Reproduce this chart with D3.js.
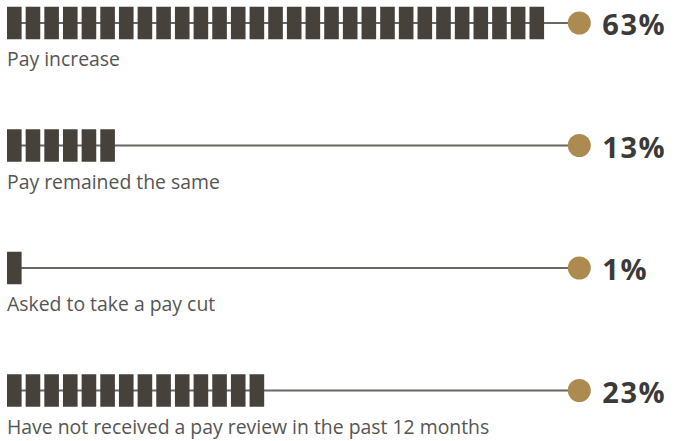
<!DOCTYPE html>
<html>
<head>
<meta charset="utf-8">
<script src="https://cdn.jsdelivr.net/npm/d3@7"></script>
<style>
  html, body { margin: 0; padding: 0; background: #fff; }
  svg { display: block; }
</style>
</head>
<body>
<svg id="chart" width="674" height="441"></svg>
<script>
const categories = [
  "Pay increase",
  "Pay remained the same",
  "Asked to take a pay cut",
  "Have not received a pay review in the past 12 months"
];
const values = [63, 13, 1, 23];
const blockCounts = [29, 6, 1, 14];
const valueLabels = ["63%", "13%", "1%", "23%"];

const svg = d3.select("#chart");

const y = d3.scalePoint().domain(categories).range([23, 390.5]);
const x = d3.scaleLinear().domain([0, 29]).range([7, 7 + 29 * 18.66]);
const blockW = 14.6, blockH = 32.5;
const circleX = 579.3, r = 11.5;

const rows = svg.selectAll("g.row")
  .data(categories.map((c, i) => ({ c, v: values[i], n: blockCounts[i], lab: valueLabels[i] })))
  .join("g").attr("class", "row")
  .attr("transform", d => `translate(0,${y(d.c)})`);

rows.append("line")
  .attr("x1", 7).attr("x2", circleX)
  .attr("y1", 0).attr("y2", 0)
  .attr("stroke", "#6b6764").attr("stroke-width", 2);

rows.selectAll("rect")
  .data(d => d3.range(d.n))
  .join("rect")
  .attr("x", i => x(i))
  .attr("y", -blockH / 2)
  .attr("width", blockW)
  .attr("height", blockH)
  .attr("fill", "#46413b");

rows.append("circle")
  .attr("cx", circleX).attr("cy", 0).attr("r", r)
  .attr("fill", "#ad8a4f");

rows.append("text")
  .attr("x", circleX + 23)
  .attr("y", 12)
  .attr("font-family", "'Open Sans', sans-serif")
  .attr("font-weight", 700)
  .attr("font-size", 29)
  .attr("letter-spacing", 1.5)
  .attr("fill", "#3b3a39")
  .text(d => d.lab);

rows.append("text")
  .attr("x", 7)
  .attr("y", 43)
  .attr("font-family", "'Open Sans', sans-serif")
  .attr("font-size", 19.4)
  .attr("fill", "#555555")
  .text(d => d.c);
</script>
</body>
</html>
